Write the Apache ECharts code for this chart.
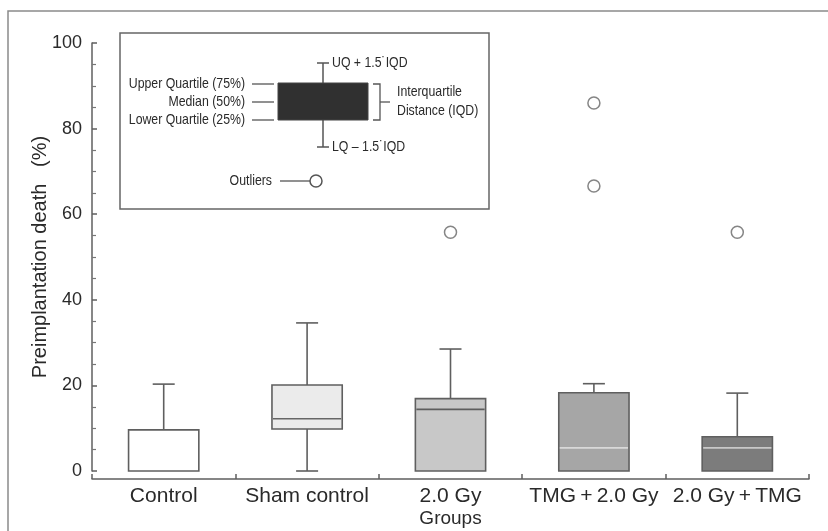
<!DOCTYPE html>
<html>
<head>
<meta charset="utf-8">
<script src="https://cdn.jsdelivr.net/npm/echarts@6/dist/echarts.min.js"></script>
<style>
html,body{margin:0;padding:0;background:#fff;}
#chart{width:828px;height:531px;}
</style>
</head>
<body>
<div id="chart"></div>
<script>
// ---- data ----
var categories = ['Control', 'Sham control', '2.0 Gy', 'TMG + 2.0 Gy', '2.0 Gy + TMG'];
var whiskerLow  = [0, 0, 0, 0, 0];
var lowerQuart  = [0, 9.8, 0, 0, 0];
var medians     = [0, 12.2, 14.4, 5.4, 5.4];
var upperQuart  = [9.6, 20.1, 16.9, 18.3, 8.0];
var whiskerHigh = [20.3, 34.6, 28.5, 20.4, 18.2];
var outlierGroup = [2, 3, 3, 4];
var outlierValue = [55.8, 86.0, 66.6, 55.8];
var yTicks = [0, 20, 40, 60, 80, 100];

// ---- styles ----
var fillColors   = ['#ffffff', '#ebebeb', '#c8c8c8', '#a6a6a6', '#7c7c7c'];
var medianColors = ['#666666', '#666666', '#5e5e5e', '#d8d8d8', '#c8c8c8'];
var lineColor = '#5f5f5f';
var textColor = '#2a2a2a';
var fontMain = '"Liberation Sans", Arial, sans-serif';

var boxData = categories.map(function (c, i) {
  return [i, whiskerLow[i], lowerQuart[i], medians[i], upperQuart[i], whiskerHigh[i]];
});
var outlierData = outlierGroup.map(function (g, i) { return [g, outlierValue[i]]; });

function renderBox(params, api) {
  var idx = api.value(0);
  var band = api.size([1, 0])[0];
  var bw = band * 0.49;
  var cw = 22;
  var pLow = api.coord([idx, api.value(1)]);
  var pQ1 = api.coord([idx, api.value(2)]);
  var pMed = api.coord([idx, api.value(3)]);
  var pQ3 = api.coord([idx, api.value(4)]);
  var pHigh = api.coord([idx, api.value(5)]);
  var x = pQ1[0];
  var children = [];
  var ls = { stroke: lineColor, lineWidth: 1.6 };
  children.push({ type: 'line', shape: { x1: x, y1: pQ3[1], x2: x, y2: pHigh[1] }, style: ls });
  children.push({ type: 'line', shape: { x1: x - cw / 2, y1: pHigh[1], x2: x + cw / 2, y2: pHigh[1] }, style: ls });
  if (api.value(1) < api.value(2)) {
    children.push({ type: 'line', shape: { x1: x, y1: pQ1[1], x2: x, y2: pLow[1] }, style: ls });
    children.push({ type: 'line', shape: { x1: x - cw / 2, y1: pLow[1], x2: x + cw / 2, y2: pLow[1] }, style: ls });
  }
  children.push({ type: 'rect', shape: { x: x - bw / 2, y: pQ3[1], width: bw, height: pQ1[1] - pQ3[1] },
    style: { fill: fillColors[idx], stroke: lineColor, lineWidth: 1.6 } });
  if (api.value(3) > api.value(2)) {
    children.push({ type: 'line', shape: { x1: x - bw / 2 + 1, y1: pMed[1], x2: x + bw / 2 - 1, y2: pMed[1] },
      style: { stroke: medianColors[idx], lineWidth: 1.6 } });
  }
  return { type: 'group', children: children };
}

var chart = echarts.init(document.getElementById('chart'), null, { renderer: 'canvas' });

var g = []; // inset key diagram
var keyStroke = '#555';
function keyText(x, y, text, align) {
  return { type: 'text', x: x, y: y, scaleX: 0.82, z: 11,
    style: { x: 0, y: 0, text: text, textAlign: align, textVerticalAlign: 'middle', font: '15px ' + fontMain, fill: textColor } };
}
g.push({ type: 'rect', shape: { x: 8, y: 11, width: 900, height: 600 }, style: { fill: 'none', stroke: '#8a8a8a', lineWidth: 1.5 }, z: 0 });
g.push({ type: 'rect', shape: { x: 120, y: 33, width: 369, height: 176 }, style: { fill: '#fff', stroke: '#666', lineWidth: 1.5 }, z: 10 });
g.push({ type: 'line', shape: { x1: 323, y1: 63, x2: 323, y2: 147 }, style: { stroke: keyStroke, lineWidth: 1.5 }, z: 11 });
g.push({ type: 'line', shape: { x1: 317, y1: 63, x2: 329, y2: 63 }, style: { stroke: keyStroke, lineWidth: 1.5 }, z: 11 });
g.push({ type: 'line', shape: { x1: 317, y1: 147, x2: 329, y2: 147 }, style: { stroke: keyStroke, lineWidth: 1.5 }, z: 11 });
g.push({ type: 'rect', shape: { x: 278, y: 83, width: 90, height: 37 }, style: { fill: '#303030', stroke: '#444', lineWidth: 1 }, z: 12 });
[[84, 'Upper Quartile (75%)'], [102, 'Median (50%)'], [120, 'Lower Quartile (25%)']].forEach(function (r) {
  g.push({ type: 'line', shape: { x1: 252, y1: r[0], x2: 274, y2: r[0] }, style: { stroke: keyStroke, lineWidth: 1.3 }, z: 11 });
  g.push(keyText(245, r[0], r[1], 'right'));
});
g.push({ type: 'polyline', shape: { points: [[373, 84], [380, 84], [380, 120], [373, 120]] }, style: { stroke: keyStroke, lineWidth: 1.3, fill: 'none' }, z: 11 });
g.push({ type: 'line', shape: { x1: 380, y1: 102, x2: 390, y2: 102 }, style: { stroke: keyStroke, lineWidth: 1.3 }, z: 11 });
g.push(keyText(397, 92, 'Interquartile', 'left'));
g.push(keyText(397, 111, 'Distance (IQD)', 'left'));
g.push(keyText(332, 63, 'UQ + 1.5\u02D9IQD', 'left'));
g.push(keyText(332, 147, 'LQ \u2013 1.5\u02D9IQD', 'left'));
g.push(keyText(272, 181, 'Outliers', 'right'));
g.push({ type: 'line', shape: { x1: 280, y1: 181, x2: 310, y2: 181 }, style: { stroke: keyStroke, lineWidth: 1.3 }, z: 11 });
g.push({ type: 'circle', shape: { cx: 316, cy: 181, r: 6 }, style: { fill: '#fff', stroke: keyStroke, lineWidth: 1.5 }, z: 11 });

chart.setOption({
  animation: false,
  backgroundColor: '#ffffff',
  grid: { left: 92, right: 19, top: 43, bottom: 60, containLabel: false, outerBoundsMode: 'none' },
  xAxis: {
    type: 'category',
    data: categories,
    boundaryGap: true,
    offset: 8,
    name: 'Groups',
    nameLocation: 'middle',
    nameGap: 30,
    nameMoveOverlap: false,
    nameTextStyle: { fontSize: 19, color: textColor, fontFamily: fontMain },
    axisLine: { onZero: false, lineStyle: { color: lineColor, width: 1.5 } },
    axisTick: { show: true, inside: true, length: 5, alignWithLabel: false, lineStyle: { color: lineColor, width: 1.5 } },
    axisLabel: {
      fontSize: 21, color: textColor, fontFamily: fontMain, margin: 7, interval: 0,
      formatter: function (v) { return v.replace(' + ', '\u2009+\u2009'); }
    },
    splitLine: { show: false }
  },
  yAxis: {
    type: 'value',
    min: yTicks[0],
    max: yTicks[yTicks.length - 1],
    interval: yTicks[1] - yTicks[0],
    name: 'Preimplantation death   (%)',
    nameLocation: 'middle',
    nameGap: 42,
    nameMoveOverlap: false,
    nameTextStyle: { fontSize: 20, color: textColor, fontFamily: fontMain },
    axisLine: { show: true, onZero: false, lineStyle: { color: lineColor, width: 1.5 } },
    axisTick: { show: true, inside: true, length: 5, lineStyle: { color: lineColor, width: 1.5 } },
    minorTick: { show: true, splitNumber: 4, length: 4, lineStyle: { color: '#777', width: 1.2 } },
    axisLabel: { fontSize: 18, color: textColor, fontFamily: fontMain, margin: 10 },
    splitLine: { show: false }
  },
  series: [
    {
      type: 'custom',
      renderItem: renderBox,
      data: boxData,
      encode: { x: 0, y: [1, 2, 3, 4, 5] },
      z: 2
    },
    {
      type: 'scatter',
      data: outlierData,
      symbol: 'circle',
      symbolSize: 12,
      itemStyle: { color: '#fff', borderColor: '#666', borderWidth: 1.5 },
      z: 3
    }
  ],
  graphic: g
});
</script>
</body>
</html>
